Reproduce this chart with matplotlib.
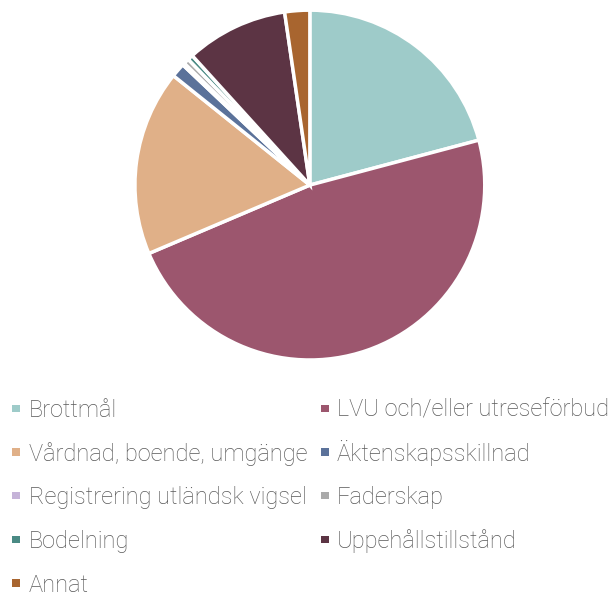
import matplotlib.pyplot as plt
from matplotlib.patches import Rectangle

labels = ["Brottmål", "LVU och/eller utreseförbud", "Vårdnad, boende, umgänge",
          "Äktenskapsskillnad", "Registrering utländsk vigsel", "Faderskap",
          "Bodelning", "Uppehållstillstånd", "Annat"]
values = [20.8, 47.6, 17.1, 1.3, 0.2, 0.5, 0.5, 9.4, 2.3]
colors = ["#9ecbc9", "#9c566e", "#e0b088", "#5b729a", "#c5b3d8", "#aaaaaa",
          "#4a8a84", "#5c3444", "#a8652f"]

plt.rcParams['font.family'] = ['Roboto', 'DejaVu Sans']

W, H = 616, 598
fig = plt.figure(figsize=(W / 100, H / 100), dpi=100)
ax = fig.add_axes([0.219, 0.398, 0.568, 0.585])
ax.pie(values, colors=colors, startangle=90, counterclock=False,
       wedgeprops=dict(edgecolor="white", linewidth=2.5))
ax.set_xlim(-1, 1)
ax.set_ylim(-1, 1)
ax.set_aspect('equal')

# legend in two columns, filled row by row
col_marker_x = [12, 321]
col_text_x = [29, 337]
base_y0, row_step = 417, 43.7
for i, (lab, c) in enumerate(zip(labels, colors)):
    row, col = divmod(i, 2)
    yb = base_y0 + row * row_step
    fig.add_artist(Rectangle((col_marker_x[col] / W, 1 - (yb - 5) / H), 7.5 / W, 7.5 / H,
                             transform=fig.transFigure, facecolor=c, edgecolor='none'))
    fig.text(col_text_x[col] / W, 1 - yb / H, lab, fontsize=17, color="#595959",
             fontweight='light', ha='left', va='baseline')

fig.savefig("out.png", dpi=100)
